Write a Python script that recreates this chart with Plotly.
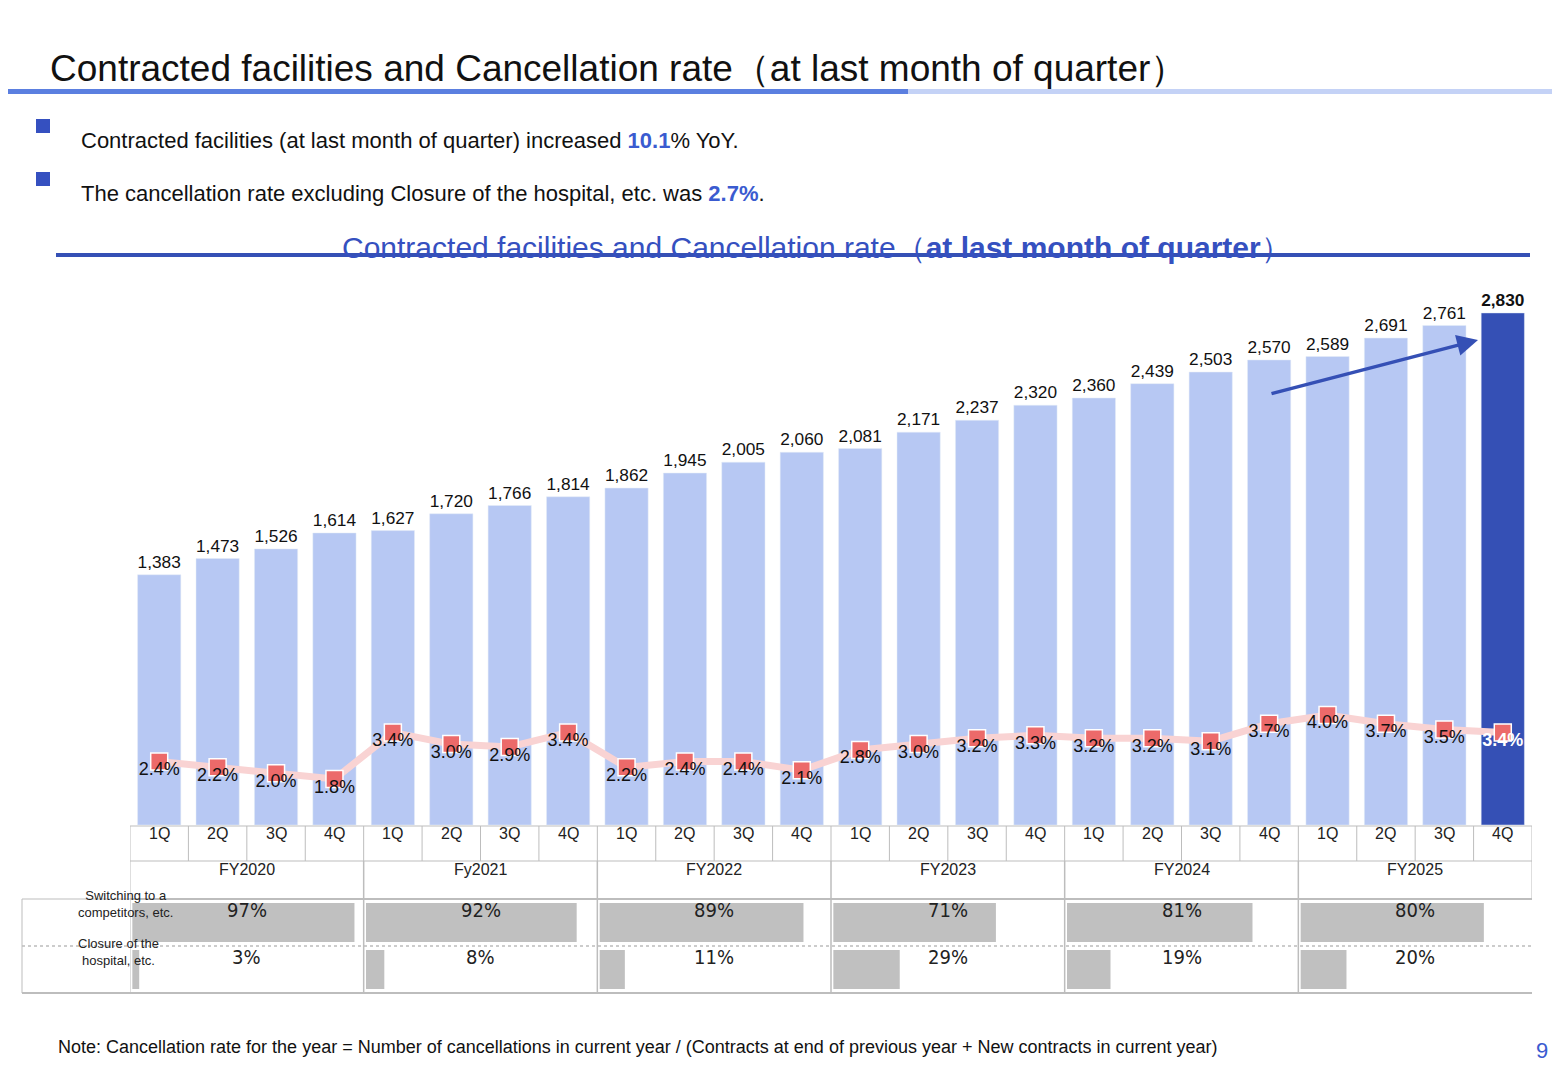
import plotly.graph_objects as go

quarters = ["1Q", "2Q", "3Q", "4Q"] * 6
fiscal_years = ["FY2020", "Fy2021", "FY2022", "FY2023", "FY2024", "FY2025"]
facilities = [1383, 1473, 1526, 1614, 1627, 1720, 1766, 1814, 1862, 1945, 2005, 2060,
              2081, 2171, 2237, 2320, 2360, 2439, 2503, 2570, 2589, 2691, 2761, 2830]
cancel_rate = [2.4, 2.2, 2.0, 1.8, 3.4, 3.0, 2.9, 3.4, 2.2, 2.4, 2.4, 2.1,
               2.8, 3.0, 3.2, 3.3, 3.2, 3.2, 3.1, 3.7, 4.0, 3.7, 3.5, 3.4]
switching_pct = [97, 92, 89, 71, 81, 80]
closure_pct = [3, 8, 11, 29, 19, 20]

W, H = 1560, 1080
def px(x):
    return x / W
def py(y):
    return 1 - y / H

n = len(facilities)
xs = list(range(n))
BLUE = "#3550b5"

bar_colors = ["#b7c8f3"] * (n - 1) + [BLUE]
bar_text = [f"{v:,}" for v in facilities[:-1]] + [f"<b>{facilities[-1]:,}</b>"]
bar_sizes = [18] * (n - 1) + [27]

fig = go.Figure()
fig.add_trace(go.Bar(x=xs, y=facilities, marker_color=bar_colors, width=0.74,
                     text=bar_text, textposition="outside", textfont=dict(size=bar_sizes, color="#111"),
                     cliponaxis=False, showlegend=False))
fig.add_trace(go.Scatter(x=xs, y=cancel_rate, yaxis="y2", mode="lines+markers",
                         line=dict(color="#f9d3d3", width=7),
                         marker=dict(symbol="square", size=17, color="#ec6a6a", line=dict(color="white", width=1.5)),
                         showlegend=False, cliponaxis=False))
rate_colors = ["#111"] * (n - 1) + ["white"]
rate_text = [f"{v:.1f}%" for v in cancel_rate[:-1]] + [f"<b>{cancel_rate[-1]:.1f}%</b>"]
fig.add_trace(go.Scatter(x=xs, y=cancel_rate, yaxis="y2", mode="text", text=rate_text,
                         textposition="bottom center", textfont=dict(size=18, color=rate_colors),
                         showlegend=False, cliponaxis=False))

shapes = []
annotations = []
grey = "#bdbdbd"
def hline(x0, x1, y, color=grey, width=1, dash="solid"):
    shapes.append(dict(type="line", xref="paper", yref="paper", x0=px(x0), x1=px(x1), y0=py(y), y1=py(y),
                       line=dict(color=color, width=width, dash=dash)))
def vline(x, y0, y1, color=grey, width=1):
    shapes.append(dict(type="line", xref="x", yref="paper", x0=x, x1=x, y0=py(y0), y1=py(y1),
                       line=dict(color=color, width=width)))

hline(122, 1524, 818)
hline(122, 1524, 853)
hline(122, 1524, 891, width=2)
hline(14, 1524, 938, color="#999", dash="dot")
hline(14, 1524, 985, width=2)
hline(14, 122, 891)
vline(-0.5, 818, 985)
vline(23.5, 818, 890)
for i in range(1, n):
    vline(i - 0.5, 818, 853)
for g in range(1, 6):
    vline(4 * g - 0.5, 853, 985, width=1.5)
shapes.append(dict(type="line", xref="paper", yref="paper", x0=px(14), x1=px(14), y0=py(891), y1=py(985),
                   line=dict(color=grey, width=1)))

for i, q in enumerate(quarters):
    annotations.append(dict(x=i, y=py(836), xref="x", yref="paper", text=q, showarrow=False,
                            font=dict(size=16, color="#222")))
narrow = "DejaVu Sans Condensed, Liberation Sans Narrow, Arial Narrow"
for g, fy in enumerate(fiscal_years):
    left = 4 * g - 0.5
    annotations.append(dict(x=left + 2, y=py(872), xref="x", yref="paper", text=fy, showarrow=False,
                            font=dict(size=16, color="#222")))
    for pct, y0, y1, yc in [(switching_pct[g], 895, 934, 916), (closure_pct[g], 942, 981, 963)]:
        shapes.append(dict(type="rect", xref="x", yref="paper", x0=left + 0.04, x1=left + 0.04 + 3.92 * pct / 100,
                           y0=py(y1), y1=py(y0), fillcolor="#c0c0c0", line=dict(width=0)))
        annotations.append(dict(x=left + 2, y=py(yc), xref="x", yref="paper", text=f"{pct}%", showarrow=False,
                                font=dict(size=20, color="#222", family=narrow)))
annotations.append(dict(x=px(68), y=py(914), xref="paper", yref="paper", text="Switching to a<br>competitors, etc.",
                        showarrow=False, font=dict(size=13, color="#222")))
annotations.append(dict(x=px(68), y=py(962), xref="paper", yref="paper", text="Closure of the<br>hospital, etc.",
                        showarrow=False, font=dict(size=13, color="#222")))

# header
annotations.append(dict(x=px(40), y=py(38), xref="paper", yref="paper", xanchor="left",
                        text="Contracted facilities and Cancellation rate（at last month of quarter）",
                        showarrow=False, font=dict(size=37, color="#111")))
shapes.append(dict(type="rect", xref="paper", yref="paper", x0=0, x1=px(900), y0=py(86), y1=py(81),
                   fillcolor="#5b7fe0", line=dict(width=0)))
shapes.append(dict(type="rect", xref="paper", yref="paper", x0=px(900), x1=1, y0=py(86), y1=py(81),
                   fillcolor="#c4d2f6", line=dict(width=0)))
for y, txt in [(118, "Contracted facilities (at last month of quarter) increased <b><span style='color:#3a5bd0'>10.1</span></b>% YoY."),
               (171, "The cancellation rate excluding Closure of the hospital, etc. was <b><span style='color:#3a5bd0'>2.7%</span></b>.")]:
    shapes.append(dict(type="rect", xref="paper", yref="paper", x0=px(28), x1=px(42), y0=py(y + 7), y1=py(y - 7),
                       fillcolor="#3550c0", line=dict(width=0)))
    annotations.append(dict(x=px(71), y=py(y), xref="paper", yref="paper", xanchor="left", text=txt,
                            showarrow=False, font=dict(size=22, color="#111")))
annotations.append(dict(x=px(808), y=py(221), xref="paper", yref="paper",
                        text="Contracted facilities and Cancellation rate（<b>at last month of quarter</b>）",
                        showarrow=False, font=dict(size=30, color="#3550c0")))
hline(48, 1522, 247, color=BLUE, width=4)

# trend arrow
annotations.append(dict(x=px(1470), y=py(332), xref="paper", yref="paper", ax=-208, ay=54,
                        text="", showarrow=True, arrowhead=2, arrowsize=1.2,
                        arrowwidth=3.5, arrowcolor=BLUE))

# footer
annotations.append(dict(x=px(48), y=py(1051), xref="paper", yref="paper", xanchor="left",
                        text="Note: Cancellation rate for the year = Number of cancellations in current year / (Contracts at end of previous year + New contracts in current year)",
                        showarrow=False, font=dict(size=18, color="#111")))
annotations.append(dict(x=px(1542), y=py(1057), xref="paper", yref="paper", text="9",
                        showarrow=False, font=dict(size=22, color="#3a5bd0")))
shapes.append(dict(type="rect", xref="paper", yref="paper", x0=0, x1=1, y0=0, y1=py(1073),
                   fillcolor="#4a6fd8", line=dict(width=0)))

fig.update_layout(
    width=W, height=H, margin=dict(l=0, r=0, t=0, b=0), autosize=False,
    paper_bgcolor="white", plot_bgcolor="white",
    font=dict(family="Liberation Sans, Arial, sans-serif"),
    xaxis=dict(domain=[px(122), px(1524)], range=[-0.5, n - 0.5], visible=False),
    yaxis=dict(domain=[py(817), py(270)], range=[0, 3023], visible=False),
    yaxis2=dict(overlaying="y", range=[0.219, 19.02], visible=False),
    bargap=0.26, shapes=shapes, annotations=annotations,
)
fig.write_html("out.html")
